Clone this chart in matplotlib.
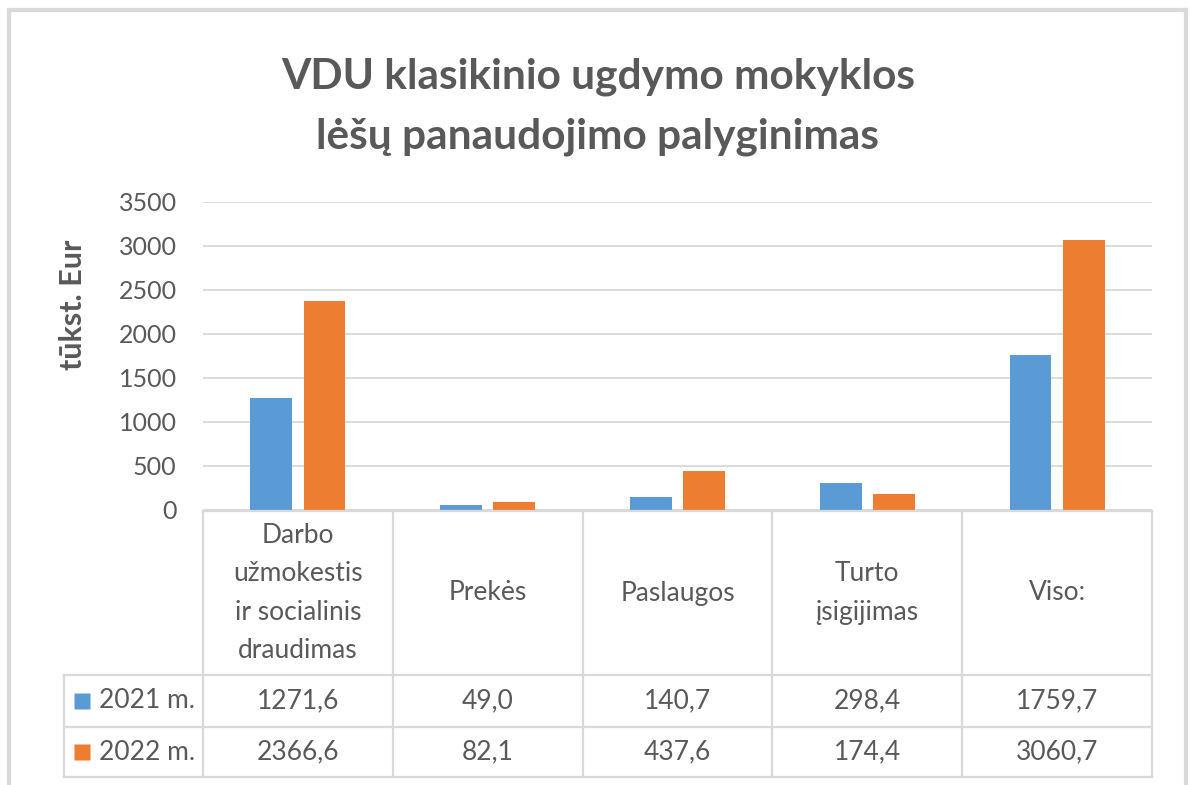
import numpy as np
import matplotlib
matplotlib.use("Agg")
import matplotlib.pyplot as plt
from matplotlib.lines import Line2D

plt.rcParams['font.family'] = ['Lato', 'DejaVu Sans']

# Data
categories = ["Darbo\nužmokestis\nir socialinis\ndraudimas", "Prekės", "Paslaugos",
              "Turto\nįsigijimas", "Viso:"]
series_names = ["2021 m.", "2022 m."]
values_2021 = [1271.6, 49.0, 140.7, 298.4, 1759.7]
values_2022 = [2366.6, 82.1, 437.6, 174.4, 3060.7]
y_ticks = [0, 500, 1000, 1500, 2000, 2500, 3000, 3500]

BLUE = '#5B9BD5'
ORANGE = '#ED7D31'
GRID = '#D9D9D9'
TXT = '#595959'

W, H = 1190, 785
fig = plt.figure(figsize=(W / 100, H / 100), dpi=100)
fig.patch.set_facecolor('white')

def fx(px):
    return px / W

def fy(py):
    return 1 - py / H

# outer chart frame
fig.add_artist(Line2D([fx(9), fx(9)], [0, fy(9.5)], color=GRID, lw=3))
fig.add_artist(Line2D([fx(9), fx(1185.5)], [fy(9.5), fy(9.5)], color=GRID, lw=3))
fig.add_artist(Line2D([fx(1185.5), fx(1185.5)], [0, fy(9.5)], color=GRID, lw=3))

# main plot area
x_left, x_right = 203, 1152
y_top, y_zero = 201.7, 509.7
ax = fig.add_axes([fx(x_left), fy(y_zero), fx(x_right - x_left), (y_zero - y_top) / H])
x = np.arange(len(categories))
bw = 0.22
ax.bar(x - 0.14, values_2021, bw, color=BLUE, zorder=3)
ax.bar(x + 0.14, values_2022, bw, color=ORANGE, zorder=3)
ax.set_xlim(-0.5, len(categories) - 0.5)
ax.set_ylim(0, 3500)
ax.set_yticks(y_ticks)
ax.set_yticklabels([str(t) for t in y_ticks], fontsize=18, color=TXT)
ax.tick_params(axis='y', length=0, pad=19)
ax.set_xticks([])
ax.yaxis.grid(True, color=GRID, lw=1.3, zorder=0)
for s in ax.spines.values():
    s.set_visible(False)

fig.text(fx(73), fy(305), "tūkst. Eur", rotation=90, ha='center', va='center',
         fontsize=22, fontweight='bold', color=TXT)

fig.text(fx(598), fy(57), "VDU klasikinio ugdymo mokyklos\nlėšų panaudojimo palyginimas",
         ha='center', va='top', fontsize=30.5, fontweight='bold', color=TXT,
         linespacing=1.72)

# data table
t_top, t_bot = 511, 777
tab = fig.add_axes([fx(x_left), fy(t_bot), fx(x_right - x_left), (t_bot - t_top) / H])
tab.set_xlim(-0.5, len(categories) - 0.5)
tab.set_ylim(t_bot - t_top, 0)
tab.axis('off')
colw = (x_right - x_left) / len(categories)
lab_left = -0.5 - (x_left - 64) / colw
row_h = [164, 216, 266]

tab.plot([-0.5, len(categories) - 0.5], [0, 0], color=GRID, lw=1.6, clip_on=False)
for yy in row_h:
    tab.plot([lab_left, len(categories) - 0.5], [yy, yy], color=GRID, lw=1.6, clip_on=False)
for xx in np.arange(len(categories) + 1) - 0.5:
    tab.plot([xx, xx], [0, row_h[-1]], color=GRID, lw=1.6, clip_on=False)
tab.plot([lab_left, lab_left], [row_h[0], row_h[-1]], color=GRID, lw=1.6, clip_on=False)

for i, c in enumerate(categories):
    tab.text(i, row_h[0] / 2, c, ha='center', va='center', fontsize=19, color=TXT,
             linespacing=1.68)

rows = [values_2021, values_2022]
colors = [BLUE, ORANGE]
for r, (vals, name, col) in enumerate(zip(rows, series_names, colors)):
    yc = (row_h[r] + row_h[r + 1]) / 2
    tab.plot([-0.5 - (x_left - 82) / colw], [yc], marker='s', ms=12, color=col,
             mec='none', clip_on=False)
    tab.text(-0.5 - (x_left - 99) / colw, yc, name, ha='left', va='center',
             fontsize=19, color=TXT)
    for i, v in enumerate(vals):
        tab.text(i, yc, f"{v:.1f}".replace('.', ','), ha='center', va='center',
                 fontsize=19, color=TXT)

fig.savefig("out.png", dpi=100)
